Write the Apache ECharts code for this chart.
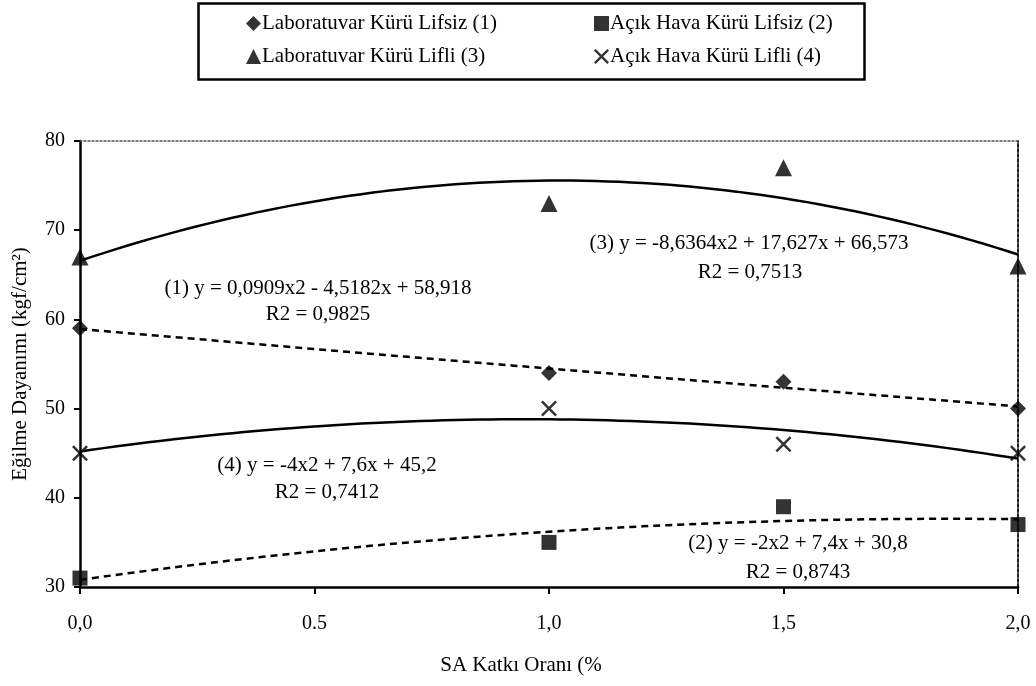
<!DOCTYPE html>
<html>
<head>
<meta charset="utf-8">
<script src="https://cdn.jsdelivr.net/npm/echarts@6/dist/echarts.min.js"></script>
<style>
  html, body { margin: 0; padding: 0; background: #fff; }
  #chart { width: 1036px; height: 686px; }
</style>
</head>
<body>
<div id="chart"></div>
<script>
// SA additive ratio (%) at which specimens were tested
const xValues = [0, 1, 1.5, 2];
// Flexural strength (kgf/cm²)
const labLifsiz = [59, 54, 53, 50];   // (1)
const acikLifsiz = [31, 35, 39, 37];  // (2)
const labLifli = [67, 73, 77, 66];    // (3)
const acikLifli = [45, 50, 46, 45];   // (4)

// Polynomial trendline coefficients [a, b, c] for y = a·x² + b·x + c
const trend1 = [0.0909, -4.5182, 58.918];
const trend2 = [-2, 7.4, 30.8];
const trend3 = [-8.6364, 17.627, 66.573];
const trend4 = [-4, 7.6, 45.2];

const xTickLabels = { '0': '0,0', '0.5': '0.5', '1': '1,0', '1.5': '1,5', '2': '2,0' };

const seriesNames = [
  'Laboratuvar Kürü Lifsiz (1)',
  'Açık Hava Kürü Lifsiz (2)',
  'Laboratuvar Kürü Lifli (3)',
  'Açık Hava Kürü Lifli (4)'
];

const equations = [
  ['(1) y = 0,0909x2 - 4,5182x + 58,918', 'R2 = 0,9825'],
  ['(2) y = -2x2 + 7,4x + 30,8', 'R2 = 0,8743'],
  ['(3) y = -8,6364x2 + 17,627x + 66,573', 'R2 = 0,7513'],
  ['(4) y = -4x2 + 7,6x + 45,2', 'R2 = 0,7412']
];

const FONT = '"Liberation Serif", "DejaVu Serif", serif';

function pairs(ys) { return xValues.map((x, i) => [x, ys[i]]); }

// Sample the stated trendline equation along the axis range
function trendPoints(coef) {
  const pts = [];
  for (let i = 0; i <= 80; i++) {
    const x = i * 0.025;
    pts.push([x, coef[0] * x * x + coef[1] * x + coef[2]]);
  }
  return pts;
}

const crossPath = 'path://M0,1.1L1.1,0L5,3.9L8.9,0L10,1.1L6.1,5L10,8.9L8.9,10L5,6.1L1.1,10L0,8.9L3.9,5Z';

function scatter(name, ys, symbol, size) {
  return {
    name: name, type: 'scatter', data: pairs(ys),
    symbol: symbol, symbolSize: size, z: 5,
    itemStyle: { color: '#000' }
  };
}

function trend(coef, dashed) {
  return {
    type: 'line', data: trendPoints(coef), showSymbol: false, symbol: 'none',
    silent: true, z: 3,
    lineStyle: { color: '#000', width: 2.5, type: dashed ? [7, 5] : 'solid' }
  };
}

function textAt(str, cx, cy, size) {
  return {
    type: 'text', x: cx, y: cy,
    style: {
      text: str, font: size + 'px ' + FONT, fill: '#000',
      align: 'center', verticalAlign: 'middle'
    }
  };
}

const chart = echarts.init(document.getElementById('chart'), null, { renderer: 'canvas' });

const legendText = { fontFamily: FONT, fontSize: 21, color: '#000', padding: [0, 0, 0, -4] };

chart.setOption({
  animation: false,
  backgroundColor: '#fff',
  textStyle: { fontFamily: FONT, color: '#000' },
  grid: { left: 80, right: 18, top: 141, bottom: 99 },
  legend: [
    {
      data: [seriesNames[0], seriesNames[2]],
      orient: 'vertical', left: 241, top: 8, itemGap: 12,
      itemWidth: 15, itemHeight: 15, textStyle: legendText
    },
    {
      data: [seriesNames[1], seriesNames[3]],
      orient: 'vertical', left: 589, top: 8, itemGap: 12,
      itemWidth: 15, itemHeight: 15, textStyle: legendText
    }
  ],
  xAxis: [
    {
      type: 'value', min: 0, max: 2, interval: 0.5,
      axisLine: { show: true, onZero: false, lineStyle: { color: '#000', width: 2.5 } },
      axisTick: { show: true, length: 7, lineStyle: { color: '#000', width: 2 } },
      axisLabel: {
        margin: 27, fontSize: 20, fontFamily: FONT, color: '#000',
        formatter: v => xTickLabels[String(v)]
      },
      splitLine: { show: false }
    },
    {
      // dotted frame edge along the top of the plot
      type: 'value', position: 'top', min: 0, max: 2,
      axisLine: { show: true, onZero: false, lineStyle: { color: '#555', width: 1.5, type: [2, 2] } },
      axisTick: { show: false }, axisLabel: { show: false }, splitLine: { show: false }
    }
  ],
  yAxis: [
    {
      type: 'value', min: 30, max: 80, interval: 10,
      name: 'Eğilme Dayanımı (kgf/cm²)', nameLocation: 'middle', nameGap: 49,
      nameTextStyle: { fontSize: 21, fontFamily: FONT, color: '#000' },
      axisLine: { show: true, onZero: false, lineStyle: { color: '#000', width: 2.5 } },
      axisTick: { show: true, length: 6, lineStyle: { color: '#000', width: 2 } },
      axisLabel: { margin: 15, fontSize: 20, fontFamily: FONT, color: '#000' },
      splitLine: { show: false }
    },
    {
      // dotted frame edge along the right of the plot
      type: 'value', position: 'right', min: 30, max: 80,
      axisLine: { show: true, onZero: false, lineStyle: { color: '#222', width: 2, type: [3, 2] } },
      axisTick: { show: false }, axisLabel: { show: false }, splitLine: { show: false }
    }
  ],
  series: [
    trend(trend1, true),
    trend(trend2, true),
    trend(trend3, false),
    trend(trend4, false),
    scatter(seriesNames[0], labLifsiz, 'diamond', 16),
    scatter(seriesNames[1], acikLifsiz, 'rect', 15),
    scatter(seriesNames[2], labLifli, 'triangle', 17),
    scatter(seriesNames[3], acikLifli, crossPath, 16)
  ],
  graphic: [
    {
      type: 'rect', left: 196, top: 1,
      shape: { width: 666, height: 76 },
      style: { fill: 'none', stroke: '#000', lineWidth: 2.5 }
    },
    textAt(equations[0][0], 318, 288, 21),
    textAt(equations[0][1], 318, 314, 21),
    textAt(equations[2][0], 749, 243, 21),
    textAt(equations[2][1], 750, 272, 21),
    textAt(equations[3][0], 327, 465, 21),
    textAt(equations[3][1], 327, 492, 21),
    textAt(equations[1][0], 798, 543, 21),
    textAt(equations[1][1], 798, 572, 21),
    textAt('SA Katkı Oranı (%', 521, 665, 21)
  ]
});
</script>
</body>
</html>
